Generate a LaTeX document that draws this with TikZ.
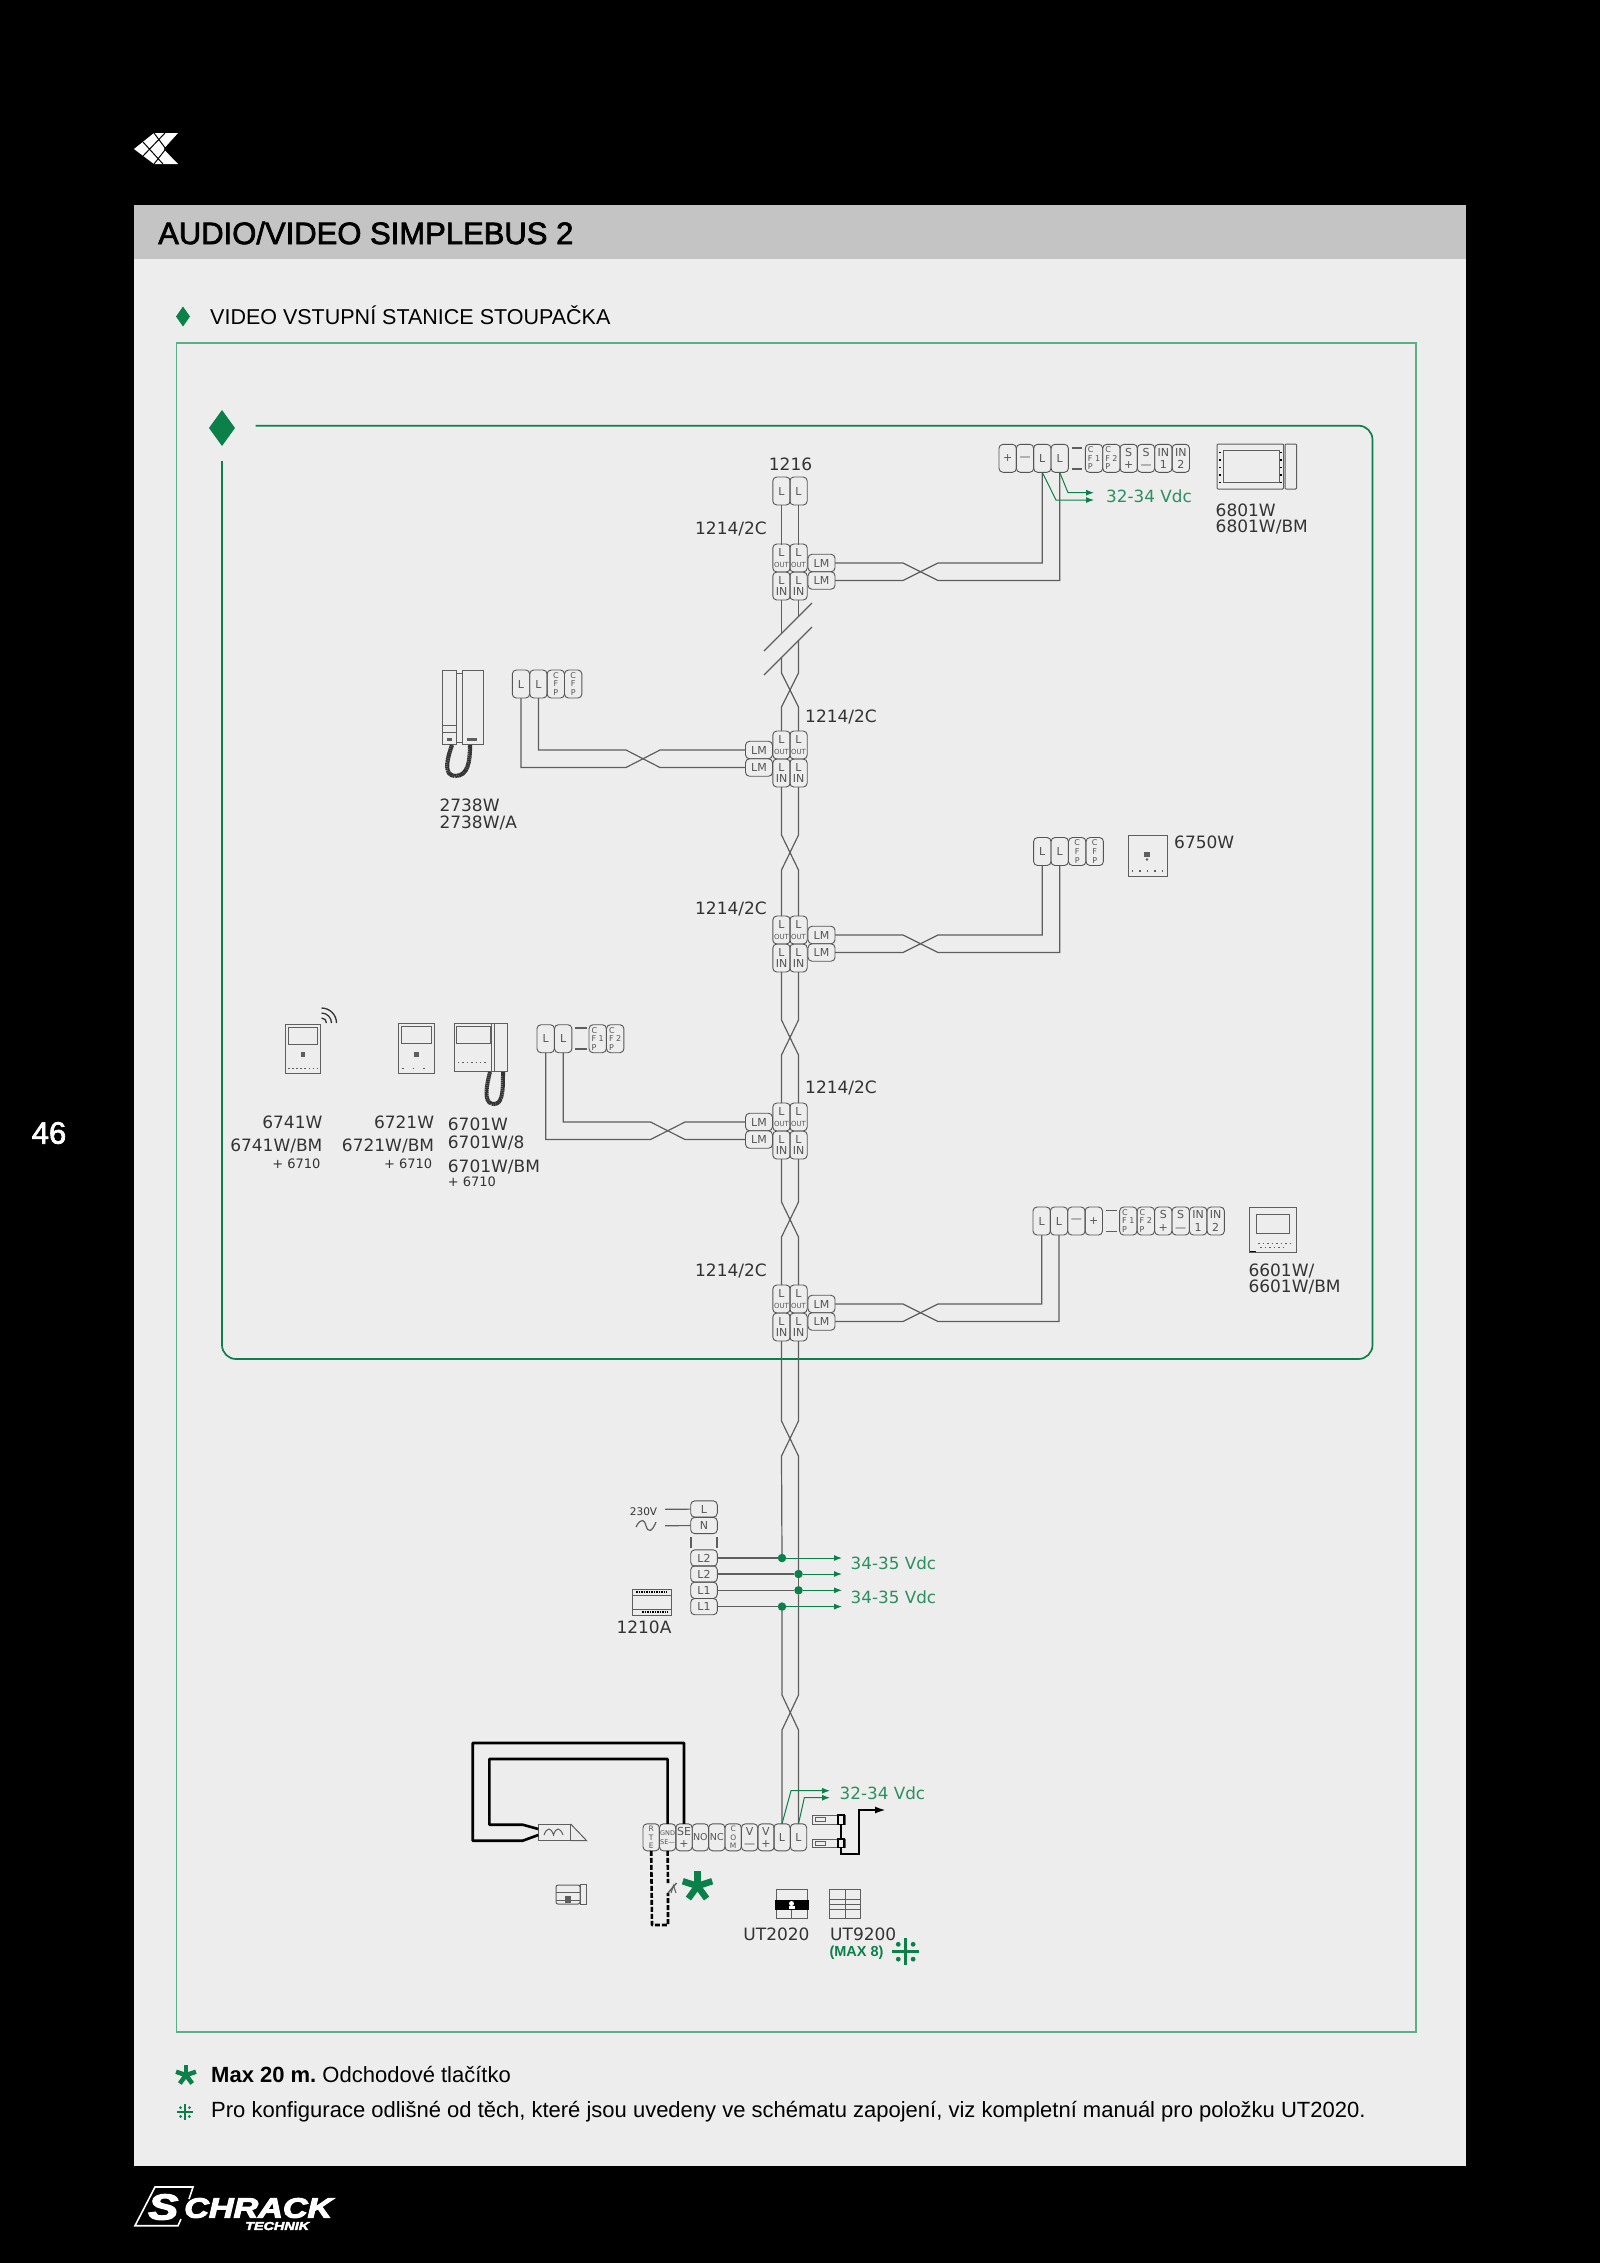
\documentclass[tikz,border=0pt]{standalone}
\usepackage{fontspec}
\setmainfont{DejaVu Sans}
\newfontfamily\helv{Liberation Sans}
\usetikzlibrary{arrows.meta}
\definecolor{paper}{HTML}{EDEDED}
\definecolor{band}{HTML}{C4C4C4}
\definecolor{leaf}{HTML}{0B8048}
\definecolor{leaflab}{HTML}{2B8F5F}
\definecolor{rim}{HTML}{5BAE87}
\definecolor{ink}{HTML}{333333}
\definecolor{wiregray}{HTML}{5E5E5E}
\definecolor{termgray}{HTML}{555555}
\tikzset{
	term/.style={draw=termgray,line width=0.9,rectangle,rounded corners=4,
		inner sep=0,outer sep=0,minimum width=17.4,minimum height=28,text=termgray,align=center,font=\fontsize{11}{12.5}\selectfont},
	termb/.style={term,minimum width=16.4,minimum height=27},
	lmterm/.style={term,minimum width=27,minimum height=17.5},
	psuterm/.style={term,minimum width=26.6,minimum height=16.3},
	cfp/.style={font=\fontsize{8}{8.6}\selectfont,align=left},
	wire/.style={draw=wiregray,line width=1.2},
	feed/.style={draw=leaf,line width=1,-{Latex[length=8pt,width=6pt]}},
	lab/.style={text=ink,inner sep=0,font=\fontsize{17}{20}\selectfont},
	sublab/.style={text=ink,inner sep=0,font=\fontsize{13}{15}\selectfont},
	vdc/.style={text=leaflab,inner sep=0,anchor=west,font=\fontsize{16.8}{19}\selectfont},
	dev/.style={draw=wiregray,line width=1},
	kabel/.style={draw=black,line width=2.6,line join=round},
	blip/.style={circle,fill=leaf,inner sep=0,outer sep=0,minimum size=8.5},
	copy/.style={text=black,inner sep=0,anchor=west,font=\helv\fontsize{22}{25}\selectfont}
}
\newcommand{\starmark}[4]{\foreach \a in {270,342,54,126,198} \draw[leaf,line width=#4] (#1,#2) -- ++(\a:#3);}
\newcommand{\dotcross}[4]{%
	\draw[leaf,line width=#4] (#1,#2) ++(-#3,0) -- ++(2*#3,0);
	\draw[leaf,line width=#4] (#1,#2) ++(0,-#3) -- ++(0,2*#3);
	\fill[leaf] (#1,#2) ++(-0.55*#3,-0.55*#3) circle (0.8*#4);
	\fill[leaf] (#1,#2) ++(0.55*#3,-0.55*#3) circle (0.8*#4);
	\fill[leaf] (#1,#2) ++(-0.55*#3,0.55*#3) circle (0.8*#4);
	\fill[leaf] (#1,#2) ++(0.55*#3,0.55*#3) circle (0.8*#4);}
\newcommand{\outlab}{L\\[-1pt]{\fontsize{7}{8}\selectfont OUT}}
\newcommand{\heavy}[2]{\special{pdf:code 2 Tr #1 w}#2\special{pdf:code 0 Tr 1 w}}
\begin{document}
\begin{tikzpicture}[x=1pt,y=-1pt]
	\useasboundingbox (0,0) rectangle (1600,2263);
	\fill [black] (0,0) rectangle (1600,2263);
	\fill [paper] (134,205) rectangle (1466,2166);
	\fill [band] (134,205) rectangle (1466,259);
	% page furniture
	\fill [white] (134,149) -- (154,133) -- (178,133) -- (163.6,149) -- (178,164) -- (154,164) -- cycle;
	\draw [black,line width=1] (143,142) -- (163,164) (154,133) -- (172,157) (143,156) -- (165,133) (154,164) -- (172,141);
	\node [inner sep=0,text=white,font=\helv\fontsize{31}{34}\selectfont] (pageno) at (49,1133) {\heavy{0.7}{46}};
	\node [inner sep=0,anchor=west,text=black,font=\helv\fontsize{31}{34}\selectfont] (title) at (158,233) {\heavy{0.7}{AUDIO/VIDEO SIMPLEBUS 2}};
	\fill [leaf] (176,316.5) -- (183,306.5) -- (190,316.5) -- (183,326.5) -- cycle;
	\node [inner sep=0,anchor=west,text=black,font=\helv\fontsize{21.5}{25}\selectfont] (subtitle) at (210,315.5) {VIDEO VSTUPNÍ STANICE STOUPAČKA};
	\draw [rim,line width=1.4] (176.5,343) rectangle (1416,2032);
	\fill [leaf] (209,428) -- (222,410) -- (235,428) -- (222,446) -- cycle;
	\draw [leaf,line width=1.7,rounded corners=14] (255.5,425.7) -- (1372.5,425.7) -- (1372.5,1359) -- (222,1359) -- (222,461);
	% riser stations
	\node [term] (top1) at (781.5,491) {L};
	\node [term] (top2) at (798.5,491) {L};
	\node [lab] (l1216) at (790.5,464) {1216};
	\draw [wire] (top1) -- (top1 |- 0,545);
	\draw [wire] (top2) -- (top2 |- 0,545);
	\node [lab,anchor=east] (ls1) at (767,529) {1214/2C};
	\node [term] (s1oa) at (781.5,558) {\outlab};
	\node [term] (s1ob) at (798.5,558) {\outlab};
	\node [term] (s1ia) at (781.5,586) {L\\[-1pt]IN};
	\node [term] (s1ib) at (798.5,586) {L\\[-1pt]IN};
	\node [lmterm] (s1la) at (821.5,563) {LM};
	\node [lmterm] (s1lb) at (821.5,580.5) {LM};
	\node [lab,anchor=west] (ls2) at (805,716.5) {1214/2C};
	\node [term] (s2oa) at (781.5,745) {\outlab};
	\node [term] (s2ob) at (798.5,745) {\outlab};
	\node [term] (s2ia) at (781.5,773) {L\\[-1pt]IN};
	\node [term] (s2ib) at (798.5,773) {L\\[-1pt]IN};
	\node [lmterm] (s2la) at (759,750) {LM};
	\node [lmterm] (s2lb) at (759,767.5) {LM};
	\node [lab,anchor=east] (ls3) at (767,909) {1214/2C};
	\node [term] (s3oa) at (781.5,930) {\outlab};
	\node [term] (s3ob) at (798.5,930) {\outlab};
	\node [term] (s3ia) at (781.5,958) {L\\[-1pt]IN};
	\node [term] (s3ib) at (798.5,958) {L\\[-1pt]IN};
	\node [lmterm] (s3la) at (821.5,935) {LM};
	\node [lmterm] (s3lb) at (821.5,952.5) {LM};
	\node [lab,anchor=west] (ls4) at (805,1088) {1214/2C};
	\node [term] (s4oa) at (781.5,1117) {\outlab};
	\node [term] (s4ob) at (798.5,1117) {\outlab};
	\node [term] (s4ia) at (781.5,1145) {L\\[-1pt]IN};
	\node [term] (s4ib) at (798.5,1145) {L\\[-1pt]IN};
	\node [lmterm] (s4la) at (759,1122) {LM};
	\node [lmterm] (s4lb) at (759,1139.5) {LM};
	\node [lab,anchor=east] (ls5) at (767,1271) {1214/2C};
	\node [term] (s5oa) at (781.5,1299) {\outlab};
	\node [term] (s5ob) at (798.5,1299) {\outlab};
	\node [term] (s5ia) at (781.5,1327) {L\\[-1pt]IN};
	\node [term] (s5ib) at (798.5,1327) {L\\[-1pt]IN};
	\node [lmterm] (s5la) at (821.5,1304) {LM};
	\node [lmterm] (s5lb) at (821.5,1321.5) {LM};
	% break in the riser
	\coordinate (cuta1) at (781.5,633);
	\coordinate (cutb1) at (798.5,616);
	\coordinate (cuta2) at (781.5,657);
	\coordinate (cutb2) at (798.5,640);
	\draw [wire] (812,603) -- (764,651);
	\draw [wire] (812,627) -- (764,675);
	\draw [wire] (s1ia) -- (cuta1);
	\draw [wire] (s1ib) -- (cutb1);
	\draw [wire] (cuta2) -- (781.5,673) -- (798.5,707) -- (s2ob);
	\draw [wire] (cutb2) -- (798.5,673) -- (781.5,707) -- (s2oa);
	\draw [wire] (s2ia) -- ++(0,62) -- ++(17,35) -- (s3ob);
	\draw [wire] (s2ib) -- ++(0,62) -- ++(-17,35) -- (s3oa);
	\draw [wire] (s3ia) -- ++(0,62) -- ++(17,35) -- (s4ob);
	\draw [wire] (s3ib) -- ++(0,62) -- ++(-17,35) -- (s4oa);
	\draw [wire] (s4ia) -- ++(0,57) -- ++(17,35) -- (s5ob);
	\draw [wire] (s4ib) -- ++(0,57) -- ++(-17,35) -- (s5oa);
	% power supply
	\node [psuterm] (pl) at (704,1509) {L};
	\node [psuterm] (pn) at (704,1525.5) {N};
	\node [psuterm] (pb1) at (704,1558) {L2};
	\node [psuterm] (pb2) at (704,1574) {L2};
	\node [psuterm] (pb3) at (704,1590.3) {L1};
	\node [psuterm] (pb4) at (704,1606.6) {L1};
	\draw [wire] (691,1537) -- (691,1548);
	\draw [wire] (717,1537) -- (717,1548);
	\coordinate (in1) at (665,1509.3);
	\coordinate (in2) at (665,1525.7);
	\draw [wire] (in1) -- (pl);
	\draw [wire] (in2) -- (pn);
	\node [inner sep=0,text=ink,font=\fontsize{10.5}{12}\selectfont] (l230) at (643.5,1512) {230V};
	\draw [wire] (636,1527) .. controls (641,1517) and (645,1520) .. (646,1525.7) .. controls (648,1533) and (652,1532) .. (656,1522);
	\node [blip] (d1) at (782,1558) {};
	\node [blip] (d2) at (798.5,1574) {};
	\node [blip] (d3) at (798.5,1590.3) {};
	\node [blip] (d4) at (782,1606.6) {};
	\coordinate (t1) at (842,1558);
	\coordinate (t2) at (842,1574);
	\coordinate (t3) at (842,1590.3);
	\coordinate (t4) at (842,1606.6);
	\draw [wire] (pb1) -- (d1);
	\draw [wire] (pb2) -- (d2);
	\draw [wire] (pb3) -- (d3);
	\draw [wire] (pb4) -- (d4);
	\draw [feed] (d1) -- (t1);
	\draw [feed] (d2) -- (t2);
	\draw [feed] (d3) -- (t3);
	\draw [feed] (d4) -- (t4);
	\node [vdc] (v1) at (850.5,1563) {34-35 Vdc};
	\node [vdc] (v2) at (850.5,1597) {34-35 Vdc};
	\draw [wire] (s5ia) -- (781.5,1421) -- (798.5,1456) -- (d2);
	\draw [wire] (s5ib) -- (798.5,1421) -- (781.5,1456) -- (d1);
	\draw [dev] (632,1589) rectangle (671,1615);
	\draw [dev] (632,1595) -- (671,1595) (632,1609) -- (671,1609);
	\draw [black,line width=2,dash pattern=on 1.5pt off 1pt] (636,1592) -- (667,1592) (642,1612) -- (668,1612);
	\node [lab] (l1210) at (644,1627.5) {1210A};
	% door panel terminals
	\node [termb,cfp,align=center,font=\fontsize{7.5}{8.8}\selectfont] (rte) at (651.2,1837.3) {R\\T\\E};
	\node [termb,align=center,font=\fontsize{6.5}{9}\selectfont] (gnd) at (667.6,1837.3) {GND\\SE—};
	\node [termb] (se) at (684,1837.3) {SE\\+};
	\node [termb,font=\fontsize{9.5}{11}\selectfont] (no) at (700.4,1837.3) {NO};
	\node [termb,font=\fontsize{9.5}{11}\selectfont] (nc) at (716.8,1837.3) {NC};
	\node [termb,cfp,align=center,font=\fontsize{7.5}{8.8}\selectfont] (com) at (733.2,1837.3) {C\\O\\M};
	\node [termb] (vm) at (749.6,1837.3) {V\\—};
	\node [termb] (vp) at (766,1837.3) {V\\+};
	\node [termb] (dl1) at (782,1837.3) {L};
	\node [termb] (dl2) at (798.5,1837.3) {L};
	\draw [wire] (d2) -- (d3);
	\draw [wire] (d4) -- (782,1695) -- (798.5,1730) -- (dl2.north);
	\draw [wire] (d3) -- (798.5,1695) -- (782,1730) -- (dl1.north);
	\coordinate (t5) at (830,1790.7);
	\coordinate (t6) at (830,1797.7);
	\draw [feed] (dl1.north) -- (791,1790.7) -- (t5);
	\draw [feed] (dl2.north) -- (804.3,1797.7) -- (t6);
	\node [vdc] (v3) at (839.5,1793) {32-34 Vdc};
	% speaker
	\draw [dev] (538.3,1824) rectangle (570.7,1840.7);
	\draw [dev] (570.7,1824) -- (586.7,1840.7) -- (570.7,1840.7);
	\draw [dev] (544,1835) .. controls (547,1827) and (551,1827) .. (553.5,1835) .. controls (556,1827) and (560,1827) .. (563,1835);
	\coordinate (spka) at (538.3,1835);
	\coordinate (spkb) at (538.3,1829);
	\draw [kabel] (se.north) -- (684,1743) -- (472.7,1743) -- (472.7,1840.7) -- (522.7,1840.7) -- (spka);
	\draw [kabel] (gnd.north) -- (667.6,1759) -- (489.3,1759) -- (489.3,1824.7) -- (522.7,1824.7) -- (spkb);
	\draw [dev,rounded corners=2] (556,1885) rectangle (580,1904);
	\draw [dev] (580,1884) rectangle (586.7,1904);
	\draw [dev] (556,1892) -- (580,1892) (556,1900) -- (580,1900);
	\fill [wiregray] (565,1896) rectangle (571,1903);
	% exit button
	\coordinate (btna) at (668,1893);
	\coordinate (btnb) at (668,1883);
	\draw [kabel,dash pattern=on 5pt off 2pt] (rte.south) -- (652,1925) -- (668,1925) -- (btna);
	\draw [kabel,dash pattern=on 5pt off 2pt] (gnd.south) -- (btnb);
	\draw [wiregray,line width=1.4] (btna) -- (676.5,1883);
	\draw [wiregray,line width=1] (671,1893) -- (673.5,1885.5) -- (676,1893);
	\starmark{697.5}{1886}{15.5}{6.5}
	% relays
	\draw [dev] (812,1815) rectangle (845,1824.3);
	\draw [dev] (812,1839) rectangle (845,1847.3);
	\draw [dev] (815,1817.5) rectangle (825,1821.5);
	\draw [dev] (815,1841.5) rectangle (825,1845.5);
	\draw [black,line width=1.5] (838,1815) rectangle (844,1824.3);
	\draw [black,line width=1.5] (838,1839) rectangle (844,1847.3);
	\coordinate (relayout) at (886,1810);
	\draw [black,line width=2] (840.7,1824.3) -- (840.7,1839);
	\draw [black,line width=2,-{Latex[length=11pt,width=7pt]}] (840.7,1847.3) -- (840.7,1854) -- (859.3,1854) -- (859.3,1810) -- (relayout);
	% modules
	\draw [dev] (776,1889) rectangle (807.3,1918.7);
	\fill [black] (775,1900) rectangle (808.5,1910);
	\fill [white] (791.5,1903.5) circle (2.5);
	\fill [white] (788.5,1906) rectangle (794.5,1908.5);
	\draw [dev] (791.7,1910) -- (791.7,1918.7);
	\node [lab] (lut1) at (776.5,1934) {UT2020};
	\draw [dev] (829.3,1889) rectangle (860.7,1918.7);
	\draw [dev] (845,1889) -- (845,1918.7) (829.3,1899.5) -- (860.7,1899.5) (829.3,1904) -- (860.7,1904) (829.3,1909) -- (860.7,1909);
	\node [lab,anchor=west] (lut2) at (830,1934) {UT9200};
	\node [inner sep=0,anchor=west,text=leaf,font=\helv\bfseries\fontsize{14.5}{17}\selectfont] (lmax) at (829.3,1952.7) {(MAX 8)};
	\dotcross{905.7}{1951.7}{13.5}{3}
	% station 1 monitor
	\node [term] (m1) at (1007.7,458.3) {+};
	\node [term] (m2) at (1025,458.3) {—};
	\node [term] (m3) at (1042.3,458.3) {L};
	\node [term] (m4) at (1059.7,458.3) {L};
	\draw [wire] (1071.6,448) -- (1082.4,448);
	\draw [wire] (1071.6,469) -- (1082.4,469);
	\node [term,cfp] (m5) at (1094,458.3) {C\\F 1\\P};
	\node [term,cfp] (m6) at (1111.4,458.3) {C\\F 2\\P};
	\node [term] (m7) at (1128.7,458.3) {S\\+};
	\node [term] (m8) at (1146,458.3) {S\\—};
	\node [term] (m9) at (1163.4,458.3) {IN\\1};
	\node [term] (m10) at (1180.8,458.3) {IN\\2};
	\draw [wire] (s1la) -- (903,563) -- (938,580.5) -- (1059.7,580.5) -- (m4);
	\draw [wire] (s1lb) -- (903,580.5) -- (938,563) -- (1042.3,563) -- (m3);
	\coordinate (t7) at (1094,500);
	\coordinate (t8) at (1094,492.7);
	\draw [feed] (m3.south) -- (1056,500) -- (t7);
	\draw [feed] (m4.south) -- (1068,492.7) -- (t8);
	\node [vdc] (v4) at (1106,496) {32-34 Vdc};
	\draw [dev,rounded corners=1] (1217,444) rectangle (1283.6,489);
	\draw [dev] (1223,450.7) rectangle (1279,482);
	\draw [dev,rounded corners=1] (1285,444) rectangle (1296.6,489);
	\draw [black,line width=1.4,dash pattern=on 1.4pt off 6pt] (1220,452) -- (1220,482) (1281,452) -- (1281,482);
	\node [lab,anchor=west] (lm1a) at (1215.5,510) {6801W};
	\node [lab,anchor=west] (lm1b) at (1215.5,527) {6801W/BM};
	% station 2 handset
	\node [term] (h1) at (521,684) {L};
	\node [term] (h2) at (538.4,684) {L};
	\node [term,cfp,align=center] (h3) at (555.8,684) {C\\F\\P};
	\node [term,cfp,align=center] (h4) at (573.2,684) {C\\F\\P};
	\draw [wire] (s2la) -- (660,750) -- (626,767.5) -- (521,767.5) -- (h1);
	\draw [wire] (s2lb) -- (660,767.5) -- (626,750) -- (538.4,750) -- (h2);
	\draw [dev] (442.7,670.7) rectangle (456.7,744.3);
	\draw [dev] (462.3,670.7) rectangle (483.3,744.3);
	\draw [dev] (456.7,673.5) -- (462.3,673.5) (456.7,742) -- (462.3,742);
	\draw [dev] (442.7,725) -- (456.7,725) (442.7,732.7) -- (456.7,732.7);
	\fill [wiregray] (447,738) rectangle (452,740.5);
	\fill [wiregray] (467,738) rectangle (477,740.5);
	\draw [draw=ink,line width=4.2,dash pattern=on 1.6pt off 0.4pt] (452,745) .. controls (446,762) and (444,775) .. (455,776) .. controls (468,776) and (470,762) .. (470,745);
	\node [lab,anchor=west] (lh1a) at (439.3,805.7) {2738W};
	\node [lab,anchor=west] (lh1b) at (439.3,823.3) {2738W/A};
	% station 3 door phone
	\node [term] (p1) at (1042.3,851.5) {L};
	\node [term] (p2) at (1059.7,851.5) {L};
	\node [term,cfp,align=center] (p3) at (1077.2,851.5) {C\\F\\P};
	\node [term,cfp,align=center] (p4) at (1094.7,851.5) {C\\F\\P};
	\draw [wire] (s3la) -- (903,935) -- (938,952.5) -- (1059.7,952.5) -- (p2);
	\draw [wire] (s3lb) -- (903,952.5) -- (938,935) -- (1042.3,935) -- (p1);
	\draw [dev] (1128,835) rectangle (1167,876);
	\fill [wiregray] (1144,852) rectangle (1150,857);
	\fill [wiregray] (1147,859.5) circle (1.3);
	\draw [wiregray,line width=1.4,dash pattern=on 1.4pt off 6pt] (1132,871) -- (1164,871);
	\node [lab,anchor=west] (lp1) at (1174,842.5) {6750W};
	% station 4 monitors
	\node [term] (w1) at (545.7,1038.7) {L};
	\node [term] (w2) at (563.2,1038.7) {L};
	\draw [wire] (575,1028) -- (586.6,1028);
	\draw [wire] (575,1049) -- (586.6,1049);
	\node [term,cfp] (w3) at (597.7,1038.7) {C\\F 1\\P};
	\node [term,cfp] (w4) at (615.2,1038.7) {C\\F 2\\P};
	\draw [wire] (s4la) -- (685,1122) -- (650.5,1139.5) -- (545.7,1139.5) -- (w1);
	\draw [wire] (s4lb) -- (685,1139.5) -- (650.5,1122) -- (563.2,1122) -- (w2);
	\draw [dev] (285,1024) rectangle (320.6,1073);
	\draw [dev] (288,1027) rectangle (317.6,1044);
	\fill [wiregray] (300.5,1052) rectangle (305,1057);
	\draw [wiregray,line width=1.6,dash pattern=on 1.6pt off 2.5pt] (288,1068.5) -- (318,1068.5);
	\draw [ink,line width=1.3] (321.5,1023) ++(0,-5) arc[start angle=-90,end angle=0,radius=5];
	\draw [ink,line width=1.3] (321.5,1023) ++(0,-10) arc[start angle=-90,end angle=0,radius=10];
	\draw [ink,line width=1.3] (321.5,1023) ++(0,-15) arc[start angle=-90,end angle=0,radius=15];
	\draw [dev] (398,1023) rectangle (434,1073);
	\draw [dev] (401.4,1026) rectangle (431,1043);
	\fill [wiregray] (414,1052) rectangle (419,1057);
	\draw [wiregray,line width=1.6,dash pattern=on 1.6pt off 9pt] (402,1068.5) -- (431,1068.5);
	\draw [dev] (454,1023) rectangle (491.7,1071.7);
	\draw [dev] (456.5,1026) rectangle (490,1043);
	\draw [dev] (491.7,1023) rectangle (507,1071.7);
	\draw [dev] (491.7,1023) -- (491.7,1071.7) (494.5,1023) -- (494.5,1071.7);
	\draw [wiregray,line width=1.4,dash pattern=on 1.4pt off 3pt] (458,1062.5) -- (488,1062.5);
	\draw [ink,line width=4,dash pattern=on 1.6pt off 0.4pt] (490,1072) .. controls (484,1095) and (486,1104) .. (494,1104) .. controls (503,1104) and (503,1090) .. (503,1072);
	\node [lab,anchor=east] (lw1a) at (322.6,1122.3) {6741W};
	\node [lab,anchor=east] (lw1b) at (322.6,1146) {6741W/BM};
	\node [sublab,anchor=east] (lw1c) at (320.6,1164) {+ 6710};
	\node [lab,anchor=east] (lw2a) at (434.3,1122.3) {6721W};
	\node [lab,anchor=east] (lw2b) at (434.3,1146) {6721W/BM};
	\node [sublab,anchor=east] (lw2c) at (432.4,1164) {+ 6710};
	\node [lab,anchor=west] (lw3a) at (447.7,1124) {6701W};
	\node [lab,anchor=west] (lw3b) at (447.7,1143.3) {6701W/8};
	\node [lab,anchor=west] (lw3c) at (447.7,1167.3) {6701W/BM};
	\node [sublab,anchor=west] (lw3d) at (447.7,1182) {+ 6710};
	% station 5 monitor
	\node [term] (n1) at (1041.7,1221) {L};
	\node [term] (n2) at (1059,1221) {L};
	\node [term] (n3) at (1076.4,1221) {—};
	\node [term] (n4) at (1093.8,1221) {+};
	\draw [wire] (1106,1210.3) -- (1117,1210.3);
	\draw [wire] (1106,1231.7) -- (1117,1231.7);
	\node [term,cfp] (n5) at (1128.3,1221) {C\\F 1\\P};
	\node [term,cfp] (n6) at (1145.8,1221) {C\\F 2\\P};
	\node [term] (n7) at (1163.3,1221) {S\\+};
	\node [term] (n8) at (1180.7,1221) {S\\—};
	\node [term] (n9) at (1198.2,1221) {IN\\1};
	\node [term] (n10) at (1215.7,1221) {IN\\2};
	\draw [wire] (s5la) -- (903,1304) -- (938,1321.5) -- (1059,1321.5) -- (n2);
	\draw [wire] (s5lb) -- (903,1321.5) -- (938,1304) -- (1041.7,1304) -- (n1);
	\draw [dev] (1249.3,1207.3) rectangle (1296.7,1252.3);
	\draw [dev] (1256.7,1214.3) rectangle (1289.3,1233.3);
	\fill [black] (1250,1250.5) rectangle (1256,1252.3);
	\draw [wiregray,line width=1.5,dash pattern=on 1.5pt off 3pt] (1258,1243.5) -- (1290,1243.5) (1260,1247.5) -- (1286,1247.5);
	\node [lab,anchor=west] (ln1a) at (1248.3,1271) {6601W/};
	\node [lab,anchor=west] (ln1b) at (1248.3,1287.3) {6601W/BM};
	% footnotes
	\starmark{186}{2075}{10.5}{4.5}
	\node [copy] (n1txt) at (211,2074) {\bfseries Max 20 m.\ \mdseries Odchodové tlačítko};
	\dotcross{185}{2112}{8}{1.9}
	\node [copy] (n2txt) at (211,2112) {Pro konfigurace odlišné od těch, které jsou uvedeny ve schématu zapojení, viz kompletní manuál pro položku UT2020.};
	% maker logo
	\draw [white,line width=1.6] (189,2199) -- (193,2187) -- (155,2187) -- (135,2225.7) -- (178,2225.7) -- (181,2219);
	\node [inner sep=0,anchor=west,text=white,xscale=1.25,font=\helv\bfseries\itshape\fontsize{36}{38}\selectfont] (logos) at (148,2207) {\heavy{1.2}{S}};
	\node [inner sep=0,anchor=west,text=white,xscale=1.22,font=\helv\bfseries\itshape\fontsize{28}{30}\selectfont] (logoc) at (184,2208) {\heavy{1}{CHRACK}};
	\node [inner sep=0,anchor=west,text=white,xscale=1.25,font=\helv\bfseries\itshape\fontsize{11.5}{13}\selectfont] (logot) at (245,2226) {\heavy{0.4}{TECHNIK}};
\end{tikzpicture}
\end{document}
